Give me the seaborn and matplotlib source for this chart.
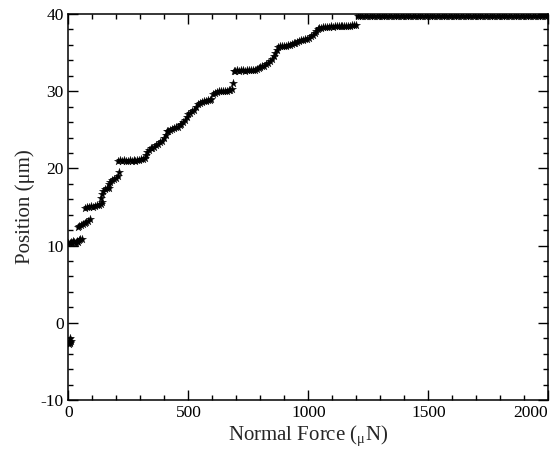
import matplotlib
matplotlib.use("Agg")
import matplotlib.pyplot as plt
from matplotlib.ticker import MultipleLocator
import seaborn as sns
import pandas as pd

# ---- data ----
force_start = [2, 4, 5, 6, 8, 10]
pos_start = [-2.8, -2.3, -2.6, -2.5, -2.0, -2.4]

force_low = [0, 5, 10, 15, 20, 25, 30, 35, 40, 45, 50, 55,
             38, 45, 52, 60, 68, 75, 82, 88,
             70, 78, 86, 94, 102, 110, 118, 126, 134, 140,
             135, 140, 145, 152, 160, 168,
             168, 175, 182, 190, 197, 205, 210]
pos_low = [10.3, 10.4, 10.5, 10.4, 10.6, 10.5, 10.4, 10.6, 10.5, 10.7, 10.8, 10.9,
           12.4, 12.6, 12.7, 12.8, 12.9, 13.0, 13.2, 13.5,
           14.9, 15.0, 15.0, 15.1, 15.0, 15.1, 15.2, 15.3, 15.4, 15.6,
           16.2, 16.7, 17.1, 17.3, 17.4, 17.5,
           18.0, 18.3, 18.5, 18.6, 18.8, 19.0, 19.5]

force_mid = [207, 215, 223, 231, 239, 247, 255, 263, 271, 279, 287, 295, 303, 311, 318,
             322, 328, 335, 343, 350, 358, 366, 374, 382, 390, 398, 405, 410,
             415, 423, 431, 439, 447, 455, 463, 470, 478,
             485, 492, 500, 508, 516, 524,
             532, 540, 548, 556, 564, 572, 580, 588, 596,
             603, 611, 619, 627, 635, 643, 651, 659, 667, 675, 682, 684]
pos_mid = [21.0, 21.1, 21.0, 21.1, 21.0, 21.0, 21.1, 21.0, 21.1, 21.0, 21.1, 21.1, 21.2, 21.2, 21.4,
           21.7, 22.1, 22.4, 22.6, 22.7, 22.8, 23.0, 23.2, 23.4, 23.6, 23.9, 24.3, 24.8,
           24.9, 25.0, 25.1, 25.2, 25.3, 25.4, 25.6, 25.8, 26.0,
           26.3, 26.7, 27.0, 27.2, 27.4, 27.6,
           28.0, 28.3, 28.5, 28.6, 28.7, 28.7, 28.8, 28.9, 29.0,
           29.6, 29.8, 29.9, 30.0, 30.0, 30.0, 30.0, 30.0, 30.1, 30.1, 30.3, 31.0]

force_high = [688, 696, 704, 712, 720, 728, 736, 744, 752, 760, 768, 776, 784, 792, 800, 808, 816,
              824, 832, 840, 848, 856, 862, 868,
              874, 882, 890, 898, 906, 914, 922, 930, 938, 946, 954, 962, 970, 978, 986, 994, 1002,
              1010, 1018, 1026, 1032,
              1038, 1046, 1054, 1062, 1070, 1078, 1086, 1094, 1102, 1110, 1118, 1126, 1134,
              1142, 1150, 1158, 1166, 1174, 1182, 1190, 1198]
pos_high = [32.6, 32.6, 32.7, 32.6, 32.7, 32.7, 32.6, 32.7, 32.7, 32.7, 32.8, 32.8, 32.9, 33.0, 33.1, 33.2, 33.3,
            33.5, 33.7, 33.9, 34.2, 34.6, 35.0, 35.4,
            35.7, 35.8, 35.8, 35.9, 35.9, 36.0, 36.0, 36.1, 36.2, 36.3, 36.4, 36.5, 36.6, 36.6, 36.7, 36.8, 36.9,
            37.1, 37.3, 37.5, 37.8,
            38.1, 38.2, 38.2, 38.3, 38.3, 38.3, 38.3, 38.4, 38.3, 38.4, 38.4, 38.4, 38.4,
            38.5, 38.5, 38.4, 38.5, 38.5, 38.6, 38.6, 38.6]

force_top = [1205, 1215, 1225, 1235, 1245, 1255, 1265, 1275, 1285, 1295,
             1305, 1315, 1325, 1335, 1345, 1355, 1365, 1375, 1385, 1395,
             1405, 1415, 1425, 1435, 1445, 1455, 1465, 1475, 1485, 1495,
             1505, 1515, 1525, 1535, 1545, 1555, 1565, 1575, 1585, 1595,
             1605, 1615, 1625, 1635, 1645, 1655, 1665, 1675, 1685, 1695,
             1705, 1715, 1725, 1735, 1745, 1755, 1765, 1775, 1785, 1795,
             1805, 1815, 1825, 1835, 1845, 1855, 1865, 1875, 1885, 1895,
             1905, 1915, 1925, 1935, 1945, 1955, 1965, 1975, 1985, 1995]
pos_top = [39.7, 39.8, 39.8, 39.7, 39.8, 39.8, 39.8, 39.7, 39.8, 39.8,
           39.8, 39.7, 39.8, 39.8, 39.8, 39.8, 39.7, 39.8, 39.8, 39.8,
           39.8, 39.8, 39.7, 39.8, 39.8, 39.8, 39.8, 39.8, 39.7, 39.8,
           39.8, 39.8, 39.8, 39.7, 39.8, 39.8, 39.8, 39.8, 39.8, 39.7,
           39.8, 39.8, 39.8, 39.8, 39.7, 39.8, 39.8, 39.8, 39.8, 39.8,
           39.7, 39.8, 39.8, 39.8, 39.8, 39.8, 39.7, 39.8, 39.8, 39.8,
           39.8, 39.8, 39.7, 39.8, 39.8, 39.8, 39.8, 39.8, 39.7, 39.8,
           39.8, 39.8, 39.8, 39.7, 39.8, 39.8, 39.8, 39.8, 39.8, 39.8]

x_ticks = [0, 500, 1000, 1500, 2000]
y_ticks = [-10, 0, 10, 20, 30, 40]

df = pd.DataFrame({
    "force": force_start + force_low + force_mid + force_high + force_top,
    "position": pos_start + pos_low + pos_mid + pos_high + pos_top,
})

sns.set_style("ticks")
plt.rcParams["font.family"] = ["Liberation Serif", "DejaVu Serif"]
plt.rcParams["mathtext.fontset"] = "custom"
plt.rcParams["mathtext.rm"] = "Liberation Serif"
plt.rcParams["axes.unicode_minus"] = False

fig = plt.figure(figsize=(5.55, 4.62), dpi=100)
ax = fig.add_axes([0.1234, 0.1342, 0.8646, 0.8355])

sns.scatterplot(data=df, x="force", y="position", marker="*", s=38,
                color="black", edgecolor="black", linewidth=0.2, ax=ax, legend=False)

ax.set_xlim(0, 2000)
ax.set_ylim(-10, 40)
ax.set_xticks(x_ticks)
ax.set_yticks(y_ticks)
ax.xaxis.set_minor_locator(MultipleLocator(100))
ax.yaxis.set_minor_locator(MultipleLocator(2))
ax.tick_params(which="both", direction="in", top=True, right=True, labelsize=12.5,
               colors="black", width=1)
ax.tick_params(which="major", length=7)
ax.tick_params(which="minor", length=3.5)
xlabels = ax.get_xticklabels()
xlabels[-1].set_horizontalalignment("right")
xlabels[-1].set_x(2000)
for s in ax.spines.values():
    s.set_linewidth(1.1)
    s.set_color("black")
ax.set_xlabel(r"Normal Force ($_{\mathrm{μ}}$N)", fontsize=15, labelpad=2)
ax.set_ylabel("Position (μm)", fontsize=15, labelpad=4)

fig.savefig("out.png", dpi=100)
